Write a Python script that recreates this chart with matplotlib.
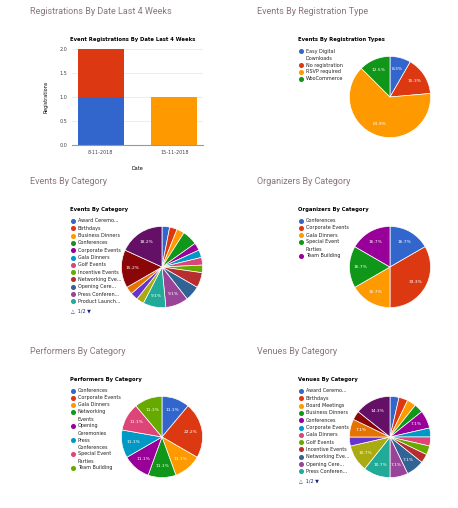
import matplotlib.pyplot as plt
from matplotlib.lines import Line2D

# ============ DATA ============
bar_dates = ['8-11-2018', '15-11-2018']
bar_blue = [1.0, 0.0]
bar_red = [1.0, 0.0]
bar_orange = [0.0, 1.0]

regtype_labels = ['Easy Digital\nDownloads', 'No registration', 'RSVP required', 'WooCommerce']
regtype_values = [6, 11, 46, 9]

events_labels = ['Award Ceremo...', 'Birthdays', 'Business Dinners', 'Conferences',
                 'Corporate Events', 'Gala Dinners', 'Golf Events', 'Incentive Events',
                 'Networking Eve...', 'Opening Cere...', 'Press Conferen...', 'Product Launch...']
events_values = [1, 1, 1, 2, 1, 1, 1, 1, 2, 2, 3, 3, 1, 1, 1, 5, 6]

org_labels = ['Conferences', 'Corporate Events', 'Gala Dinners', 'Special Event\nParties', 'Team Building']
org_values = [1, 2, 1, 1, 1]

perf_labels = ['Conferences', 'Corporate Events', 'Gala Dinners', 'Networking\nEvents',
               'Opening\nCeremonies', 'Press\nConferences', 'Special Event\nParties', 'Team Building']
perf_values = [1, 2, 1, 1, 1, 1, 1, 1]

venue_labels = ['Award Ceremo...', 'Birthdays', 'Board Meetings', 'Business Dinners',
                'Conferences', 'Corporate Events', 'Gala Dinners', 'Golf Events',
                'Incentive Events', 'Networking Eve...', 'Opening Cere...', 'Press Conferen...']
venue_values = [1, 1, 1, 1, 2, 1, 1, 1, 1, 2, 2, 3, 3, 1, 2, 1, 4]

GCOLORS = ['#3366cc', '#dc3912', '#ff9900', '#109618', '#990099', '#0099c6',
           '#dd4477', '#66aa00', '#b82e2e', '#316395', '#994499', '#22aa99',
           '#aaaa11', '#6633cc', '#e67300', '#8b0707', '#651067', '#329262']

W, H = 458, 508
fig = plt.figure(figsize=(W / 100, H / 100), dpi=100)
fig.patch.set_facecolor('white')


def box(x, y, w, h):
    return [x / W, 1 - (y + h) / H, w / W, h / H]


def ftext(x, y, s, **kw):
    fig.text(x / W, 1 - y / H, s, **kw)


panel_titles = [('Registrations By Date Last 4 Weeks', 30, 12), ('Events By Registration Type', 257, 12),
                ('Events By Category', 30, 182), ('Organizers By Category', 257, 182),
                ('Performers By Category', 30, 352), ('Venues By Category', 257, 352)]
for t, x, y in panel_titles:
    ftext(x, y, t, fontsize=6.5, color='#8a7578', va='center', family='Roboto')

# ============ BAR ============
ax = fig.add_axes(box(72, 49, 131, 96))
ax.bar(range(2), bar_blue, width=0.62, color='#3366cc')
ax.bar(range(2), bar_red, bottom=bar_blue, width=0.62, color='#dc3912')
ax.bar(range(2), bar_orange, width=0.62, color='#ff9900')
ax.set_ylim(0, 2)
ax.set_yticks([0, 0.5, 1, 1.5, 2])
ax.set_yticklabels(['0.0', '0.5', '1.0', '1.5', '2.0'])
ax.set_xticks(range(2))
ax.set_xticklabels(bar_dates)
ax.tick_params(labelsize=3.5, length=0, colors='#444444')
ax.grid(axis='y', color='#e6e6e6', lw=0.5)
ax.set_axisbelow(True)
for s in ['top', 'right', 'left']:
    ax.spines[s].set_visible(False)
ax.spines['bottom'].set_color('#999999')
ax.set_xlabel('Date', fontsize=3.5, labelpad=8)
ax.set_ylabel('Registrations', fontsize=3.5, labelpad=8)
ftext(70, 39, 'Event Registrations By Date Last 4 Weeks', fontsize=3.8, weight='bold', va='center')


# ============ PIES ============
def pie(cx, cy, r, values, labels, title, lx, ly, step, more=False):
    a = fig.add_axes(box(cx - r, cy - r, 2 * r, 2 * r))
    cols = GCOLORS[:len(values)]
    a.pie(values, colors=cols, startangle=90, counterclock=False,
          wedgeprops=dict(edgecolor='white', linewidth=0.5),
          autopct=lambda p: f'{p:.1f}%' if p >= 7 else '', pctdistance=0.72,
          textprops=dict(color='white', fontsize=3.2))
    a.set_xlim(-1.01, 1.01)
    a.set_ylim(-1.01, 1.01)
    ftext(lx, ly, title, fontsize=3.8, weight='bold', va='center')
    y = ly + 11
    for i, lab in enumerate(labels):
        fig.add_artist(Line2D([(lx + 3) / W], [1 - y / H], marker='o', markersize=2.6,
                              color=cols[i], lw=0, transform=fig.transFigure))
        if '\n' in lab:
            ftext(lx + 8, y - 2.5, lab, fontsize=3.5, color='#222222', va='top', linespacing=1.7)
            y += step * 2
        else:
            ftext(lx + 8, y, lab, fontsize=3.5, color='#222222', va='center')
            y += step
    if more:
        ftext(lx + 1, y + 2, '△  1/2 ▼', fontsize=3.5, color='#1a237e', va='center')


pie(390, 97, 41, regtype_values, regtype_labels, 'Events By Registration Types', 298, 40, 7)
pie(162, 267, 41, events_values, events_labels, 'Events By Category', 70, 210, 7.3, more=True)
pie(390, 267, 41, org_values, org_labels, 'Organizers By Category', 298, 210, 7)
pie(162, 437, 41, perf_values, perf_labels, 'Performers By Category', 70, 380, 7)
pie(390, 437, 41, venue_values, venue_labels, 'Venues By Category', 298, 380, 7.3, more=True)

fig.savefig('out.png', dpi=100)
